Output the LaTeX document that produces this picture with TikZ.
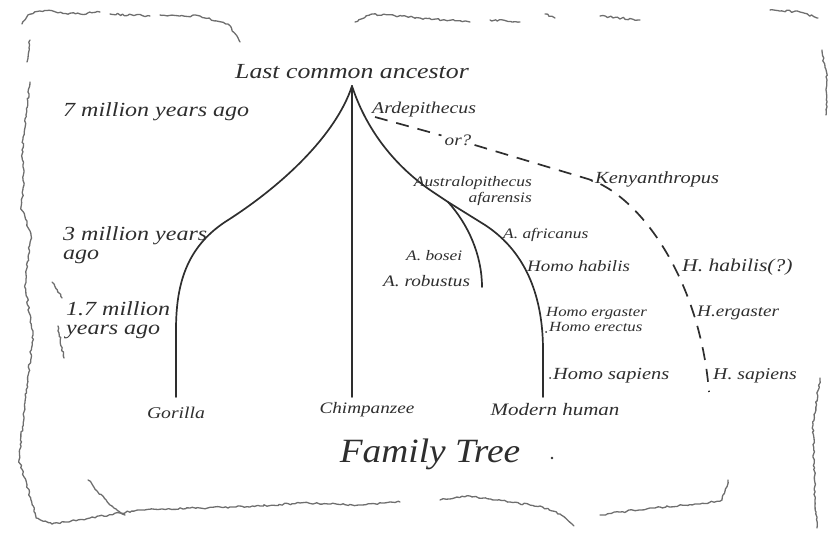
\documentclass[tikz,border=0pt]{standalone}
\usepackage{fontspec}
\newfontfamily\hand{Liberation Serif}[FakeStretch=1.2]
\newfontfamily\handT{Liberation Serif}[FakeStretch=1.1]
\usetikzlibrary{decorations.pathmorphing}
\definecolor{ink}{HTML}{2E2E2E}
\definecolor{edge}{HTML}{6E6E6E}
\begin{document}
\begin{tikzpicture}[x=1pt,y=-1pt,
  hw/.style={text=ink, inner sep=0pt, font=\hand\itshape\fontsize{#1}{16}\selectfont},
  hwt/.style={text=ink, inner sep=0pt, align=left, font=\hand\itshape\fontsize{#1}{19.5}\selectfont},
  branch/.style={draw=ink, line width=1.7pt, line cap=round, line join=round},
  dashline/.style={draw=ink, line width=1.7pt, dash pattern=on 13pt off 9pt},
  rough/.style={draw=edge, line width=1.3pt, line cap=round, line join=round, decorate,
    decoration={random steps, segment length=2.5pt, amplitude=1pt}}]
\pgfmathsetseed{7}
\useasboundingbox (0,0) rectangle (830,534);

% ---- rough torn border ----
\draw[rough] (22,24) .. controls (28,12) and (42,8) .. (58,13) -- (80,14) -- (100,12);
\draw[rough] (110,14) -- (150,16);
\draw[rough] (160,15) -- (200,16) -- (228,24) -- (240,42);
\draw[rough] (355,22) -- (372,14) -- (420,18) -- (470,22);
\draw[rough] (490,20) -- (520,22);
\draw[rough] (545,14) -- (555,18);
\draw[rough] (600,16) -- (640,20);
\draw[rough] (770,10) -- (800,12) -- (818,18);
\draw[rough] (822,50) -- (827,80) -- (826,115);
\draw[rough] (820,378) -- (813,425) -- (815,500) -- (817,528);
\draw[rough] (30,40) -- (27,62);
\draw[rough] (30,82) -- (22,150) -- (24,185) -- (21,207) -- (31,235) -- (25,285) -- (33,335) -- (27,385) -- (19,460) -- (27,485) -- (36,518) -- (52,524);
\draw[rough] (52,282) -- (62,298);
\draw[rough] (58,326) -- (64,358);
\draw[rough] (52,524) -- (90,518) -- (140,510) -- (200,508) -- (260,506) -- (300,503) -- (360,505) -- (400,502);
\draw[rough] (88,480) -- (110,505) -- (125,515);
\draw[rough] (440,500) -- (470,496) -- (510,502) -- (540,506) -- (560,514) -- (574,526);
\draw[rough] (600,515) -- (650,508) -- (700,504) -- (722,500) -- (728,480);

% ---- tree ----
\coordinate (apex) at (352,86);
\coordinate (gor) at (176,397);
\coordinate (chi) at (352,397);
\coordinate (hum) at (543,397);
\coordinate (afa) at (433,192);
\coordinate (split) at (448,202);
\coordinate (bend) at (485,225);
\coordinate (rob) at (482,287);

\node[hw=21.5] (lca) at (352,72) {Last common ancestor};

\draw[branch] (apex) .. controls (336,135) and (282,186) .. (225,222)
  .. controls (186,248) and (176,285) .. (176,330) -- (gor);
\draw[branch] (apex) -- (chi);
\draw[branch] (apex) .. controls (368,135) and (400,170) .. (afa) -- (split) -- (bend)
  .. controls (528,253) and (543,300) .. (543,350) -- (hum);
\draw[branch] (split) .. controls (468,224) and (482,255) .. (rob);

% ---- dashed alternative lineage ----
\coordinate (d0) at (375,117);
\coordinate (d1) at (588,179);
\coordinate (d2) at (709,392);
\node[hw=16, inner sep=3pt] (or) at (458,140) {or?};
\draw[dashline] (d0) -- (or);
\draw[dashline] (or) -- (d1) .. controls (640,195) and (700,280) .. (d2);

% ---- labels ----
\node[hwt=20, anchor=west] (t7) at (63,112) {7 million years ago};
\node[hwt=20, anchor=west] (t3) at (63,245) {3 million years\\ago};
\node[hwt=20, anchor=west] (t17) at (66,320) {1.7 million\\years ago};

\node[hw=16.5, anchor=base west] (ard) at (372,114) {Ardepithecus};
\node[hw=17, anchor=base west] (ken) at (595,184) {Kenyanthropus};
\node[hw=14.5, anchor=east, align=right] (afal) at (532,191) {Australopithecus\\afarensis};
\node[hw=14.5, anchor=base west] (afr) at (503,239) {A. africanus};
\node[hw=14.5, anchor=base west] (bos) at (406,261) {A. bosei};
\node[hw=16, anchor=base west] (robl) at (383,287) {A. robustus};
\node[hw=15.8, anchor=base west] (hab) at (527,272) {Homo habilis};
\node[hw=18, anchor=base west] (hab2) at (682,272) {H. habilis(?)};
\node[hw=14, anchor=base west] (erg) at (546,317) {Homo ergaster};
\node[hw=14, anchor=base west] (ere) at (549,332) {Homo erectus};
\node[hw=16, anchor=base west] (erg2) at (697,317) {H.ergaster};
\node[hw=17, anchor=base west] (sap) at (553,380) {Homo sapiens};
\node[hw=16.5, anchor=base west] (sap2) at (713,380) {H. sapiens};

\fill[ink] (592,181) circle (1pt);
\fill[ink] (546,332) circle (1pt);
\fill[ink] (550,378) circle (1pt);

\node[hw=16.4] (gorl) at (176,413) {Gorilla};
\node[hw=16] (chil) at (367,410) {Chimpanzee};
\node[hw=17.5] (huml) at (555,410) {Modern human};

\node[text=ink, inner sep=0pt, font=\handT\itshape\fontsize{34}{36}\selectfont, anchor=base] (title) at (430,462) {Family Tree};
\fill[ink] (552,458) circle (1.3pt);
\end{tikzpicture}
\end{document}
